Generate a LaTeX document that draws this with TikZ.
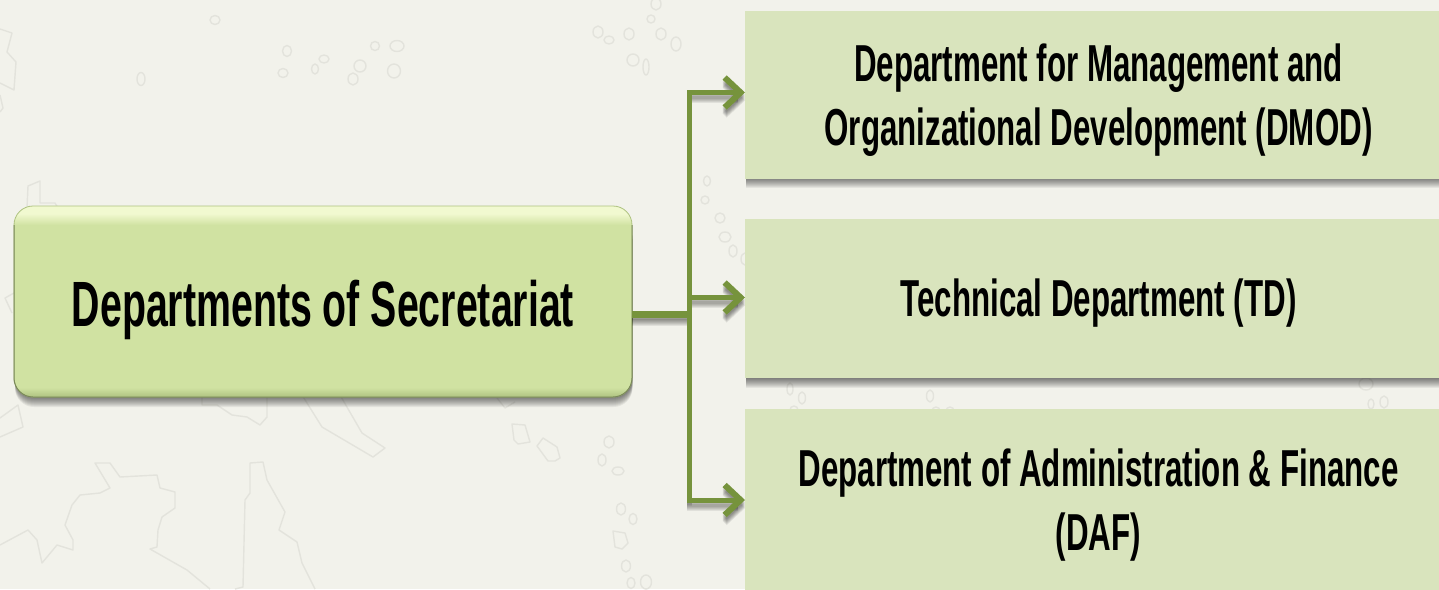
\documentclass[tikz,border=0pt]{standalone}
\usepackage{fontspec}
\usetikzlibrary{arrows.meta}
\newfontfamily\condfont[FakeStretch=0.602]{Liberation Sans}
\newfontfamily\condmain[FakeStretch=0.614]{Liberation Sans}
\definecolor{bgc}{HTML}{F2F2EB}
\definecolor{mapc}{HTML}{E3E3DC}
\definecolor{boxc}{HTML}{D9E4BD}
\definecolor{linkc}{HTML}{76933C}
\definecolor{mainc}{HTML}{D0E2A2}
\definecolor{maindark}{HTML}{AEC280}
\definecolor{mainlight}{HTML}{F1F9D0}
\pgfdeclareverticalshading{bevelshade}{100bp}{color(0bp)=(maindark); color(25bp)=(maindark); color(27.5bp)=(mainc); color(70bp)=(mainc); color(73bp)=(mainlight); color(75bp)=(mainlight); color(100bp)=(mainlight)}
\tikzset{
  softshadow/.style={fill=black,fill opacity=.06},
  deptbox/.style={fill=boxc,inner sep=0pt,outer sep=0pt,align=center,
    font=\condfont\bfseries\fontsize{52}{64}\selectfont},
  mainbox/.style={shading=bevelshade,draw=maindark,line width=.8pt,rounded corners=19pt,
    inner sep=0pt,outer sep=0pt,font=\condmain\bfseries\fontsize{64}{70}\selectfont},
  mainedge/.style={draw=maindark!70!black,line width=1pt,rounded corners=19pt},
  linkbase/.style={line join=miter},
  linktip/.style={-{Straight Barb[length=16pt,width=30pt,line width=6pt]}},
  maplines/.style={draw=mapc,line width=1.4pt,line join=round}
}
\newcommand{\linkpaths}[1]{%
  \draw[linkbase,#1,line width=7pt] (main.east |- junction) -- ([xshift=2pt]junction);
  \draw[linkbase,linktip,#1,line width=5.5pt] (junction) |- ([yshift=2.5pt]dmod.west);
  \draw[linkbase,linktip,#1,line width=4.5pt] (junction) |- ([yshift=1pt]td.west);
  \draw[linkbase,linktip,#1,line width=5pt] (junction) |- ([yshift=1pt]daf.west);
}
\begin{document}
\begin{tikzpicture}[x=1pt,y=-1pt]
\useasboundingbox (0,0) rectangle (1439,589);
\clip (0,0) rectangle (1439,589);
\fill[bgc] (0,0) rectangle (1439,589);
% map decoration
\foreach \ex/\ey/\rx/\ry in {215/20/5/4.5,141/79/4/6.5,287/51/4.5/5.5,283/73/5/4.5,315/69/3.5/5,324/59/5/4,353/79/5/6,360/66/6/6,375/46/4.5/4.5,397/46/7/5.5,394/71/6.5/7,
 598/32/5/6,609/40/5/4,629/34/5/6,633/60/6/6,646/67/3/8,651/19/4/4,656/4/5/6,661/34/5/6,676/44/5/7,
 707/181/3.5/5,705/200/4/4,720/218/5/5,725/237/6/5,733/251/4/6,745/259/4/6,
 609/442/5/6,602/460/4/6,618/471/6/4,621/509/4.5/6,633/519/4/5.5,626/566/4.5/6,631/583/4/5.5,646/582/5.5/7,
 790/389/3/6,802/398/3.5/6,794/410/4/4,930/396/3.5/6,936/411/4/4,950/411/4/4,1366/384/7/6,1371/404/3/5,1384/402/4/6}
  \draw[maplines] (\ex,\ey) ellipse [x radius=\rx,y radius=\ry];
\draw[maplines] (0,29)--(12,33)--(7,52)--(16,62)--(14,90)--(0,83);
\draw[maplines] (0,95)--(3,108)--(0,112);
\draw[maplines] (27,208)--(28,186)--(40,181)--(40,203)--(55,203)--(58,208);
\draw[maplines] (14,293)--(5,298)--(12,313);
\draw[maplines] (0,418)--(18,405)--(23,427)--(0,437);
\draw[maplines] (202,395)--(202,405)--(217,405)--(232,415)--(247,417)--(260,425)--(267,417)--(267,395);
\draw[maplines] (302,395)--(322,427)--(373,457)--(385,448)--(362,433)--(340,395);
\draw[maplines] (497,398)--(505,408)--(515,402);
\draw[maplines] (512,424)--(525,425)--(530,442)--(518,444)--(514,440)--cycle;
\draw[maplines] (537,446)--(543,438)--(557,447)--(560,458)--(555,461)--(548,461)--cycle;
\draw[maplines] (613,531)--(625,533)--(628,543)--(622,549)--(615,547)--cycle;
\draw[maplines] (210,589)--(187,570)--(150,549)--(157,547)--(158,530)--(162,517)--(175,508)--(175,492)--(160,488)--(157,475)--(120,477)--(110,463)--(95,463)--(110,488)--(100,493)--(80,495)--(72,505)--(65,525)--(73,540)--(73,550)--(57,545)--(42,563)--(37,540)--(28,530)--(0,545);
\draw[maplines] (315,589)--(302,563)--(297,542)--(279,530)--(285,512)--(267,480)--(263,462)--(250,463)--(250,493)--(245,500)--(243,587)--(235,589);
% soft shadows below the boxes
\foreach \s in {2,...,11} {
  \fill[softshadow] (746,20) rectangle (1445,177+\s);
  \fill[softshadow] (746,230) rectangle (1445,377+\s);
  \fill[softshadow,rounded corners=19pt] (15,220) rectangle (632.5,396+\s);
}
% node outlines only fix the anchors; text and fills follow
\node[mainbox,minimum width=618pt,minimum height=191pt,text height=58pt,text depth=9pt] (main) at (323,301.5) {Departments of Secretariat};
\node[deptbox,minimum width=707pt,minimum height=168pt] (dmod) at (1098.5,95) {\rule{0pt}{48pt}Department for Management and\\Organizational Development (DMOD)};
\node[deptbox,minimum width=707pt,minimum height=159pt] (td) at (1098.5,298.5) {\rule{0pt}{46pt}Technical Department (TD)};
\node[deptbox,minimum width=707pt,minimum height=184pt] (daf) at (1098.5,501) {\rule{0pt}{46pt}Department of Administration \& Finance\\(DAF)};
\draw[mainedge] ([yshift=-19pt]main.north east) -- (main.south east) -- (main.south west) -- ([yshift=-19pt]main.north west);
% connectors
\coordinate (junction) at (689.5,314.5);
\foreach \s in {2,...,8} {
  \begin{scope}[transform canvas={yshift=-\s pt}]
    \linkpaths{draw=black,draw opacity=.07}
  \end{scope}
}
\linkpaths{draw=linkc}
\end{tikzpicture}
\end{document}
